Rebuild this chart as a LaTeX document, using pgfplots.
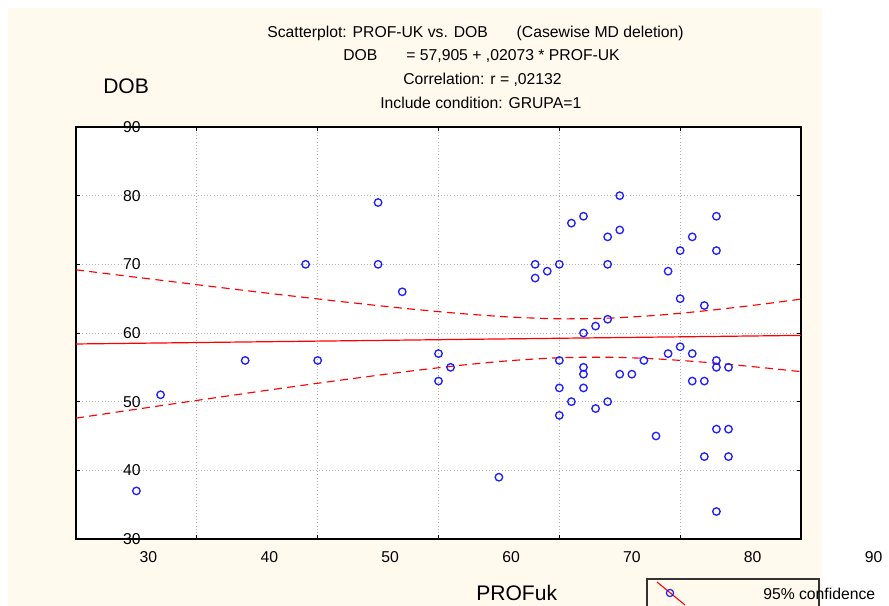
\documentclass[border=0pt]{standalone}
\usepackage{pgfplots}
\pgfplotsset{compat=1.18}
\usepackage{fontspec}
\setmainfont{Liberation Sans}
\definecolor{cream}{HTML}{FFF9EE}
\definecolor{ptblue}{RGB}{30,30,255}

\begin{document}
\begin{tikzpicture}[x=0.75pt,y=0.75pt]
  % page = 889x606 px, 1 px = 0.75pt, origin at the axis box's lower left corner
  \path[use as bounding box] (-76,-67) rectangle (813,539);
  \fill[cream] (-68,-67) rectangle (746,531);

  \begin{axis}[
      at={(0,0)}, anchor=south west,
      scale only axis,
      width=543.75pt, height=309pt,
      xmin=24, xmax=84, ymin=30, ymax=90,
      axis background/.style={fill=white},
      axis line style={black, line width=0.9pt},
      xtick={34,44,54,64,74},
      xticklabel style={text opacity=0},
      ytick={30,40,...,90},
      yticklabel style={anchor=center, xshift=42pt},
      tick align=inside,
      tick pos=both,
      major tick length=3pt,
      tick style={black, line width=0.6pt},
      grid=major,
      grid style={dotted, gray!60, line width=0.6pt},
      font=\fontsize{11.8}{14}\selectfont,
      /pgf/number format/assume math mode=true,
      clip=false,
    ]
    % regression line
    \addplot[red, line width=0.9pt] coordinates {(24,58.40) (84,59.65)};

    % 95% confidence band
    \addplot[red, dashed, dash pattern=on 6pt off 4pt, line width=0.85pt, smooth] coordinates {
      (24,69.20) (28,68.33) (32,67.47) (36,66.61) (40,65.77) (44,64.96)
      (48,64.18) (52,63.44) (56,62.81) (60,62.32) (64,62.07) (68,62.16)
      (72,62.57) (76,63.22) (80,64.02) (84,64.93)
    };
    \addplot[red, dashed, dash pattern=on 6pt off 4pt, line width=0.85pt, smooth] coordinates {
      (24,47.60) (28,48.64) (32,49.67) (36,50.69) (40,51.70) (44,52.68)
      (48,53.62) (52,54.52) (56,55.33) (60,55.98) (64,56.39) (68,56.47)
      (72,56.23) (76,55.74) (80,55.10) (84,54.37)
    };

    % cases
    \addplot[only marks, mark=o, mark size=2.8pt, ptblue,
             mark options={line width=1pt}] coordinates {
      (29,37) (31,51) (38,56) (43,70) (44,56) (49,79) (49,70) (51,66)
      (54,57) (54,53) (55,55) (59,39)
      (62,70) (62,68) (63,69) (64,70) (65,76) (66,77) (68,74) (69,80)
      (69,75) (68,70) (73,69) (74,72) (74,65) (68,62) (67,61) (66,60)
      (75,74) (77,77) (77,72) (76,64) (74,58)
      (64,56) (66,55) (66,54) (64,52) (66,52) (65,50) (68,50) (67,49)
      (64,48) (69,54) (70,54) (71,56) (73,57) (72,45) (75,57) (77,56)
      (77,55) (78,55) (75,53) (76,53) (77,46) (78,46) (76,42) (78,42)
      (77,34)
    };

    % x tick labels (offset from the grid, as in the original)
    \foreach \v in {30,40,...,90} {
      \edef\tmp{\noexpand\node[anchor=base, yshift=-18pt] at (axis cs:\v,30) {\v};}
      \tmp
    }
  \end{axis}

  % titles
  \begin{scope}[font=\fontsize{11.8}{14}\selectfont]
    \node[anchor=base west, inner sep=0] at (191,501.5) {Scatterplot: PROF-UK vs. DOB};
    \node[anchor=base east, inner sep=0] at (608,501.5) {(Casewise MD deletion)};
    \node[anchor=base west, inner sep=0] at (267,478.5) {DOB};
    \node[anchor=base east, inner sep=0] at (544,478.5) {= 57,905 + ,02073 * PROF-UK};
    \node[anchor=base west, inner sep=0] at (327,454.5) {Correlation: r = ,02132};
    \node[anchor=base west, inner sep=0] at (304,430.5) {Include condition: GRUPA=1};
  \end{scope}

  % axis titles
  \node[anchor=base west, inner sep=0, font=\fontsize{15.8}{18}\selectfont] at (27,445.5) {DOB};
  \node[anchor=base west, inner sep=0, font=\fontsize{15.8}{18}\selectfont] at (400,-61.5) {PROFuk};

  % legend
  \draw[black!80, line width=0.8pt] (571,-80) rectangle (743,-40);
  \draw[red, line width=0.8pt] (581,-43) -- (609,-66);
  \draw[ptblue, line width=0.9pt] (594,-54) circle (3.6);
  \node[anchor=base west, inner sep=0, font=\fontsize{11.8}{14}\selectfont] at (687,-61) {95\% confidence};
\end{tikzpicture}
\end{document}
